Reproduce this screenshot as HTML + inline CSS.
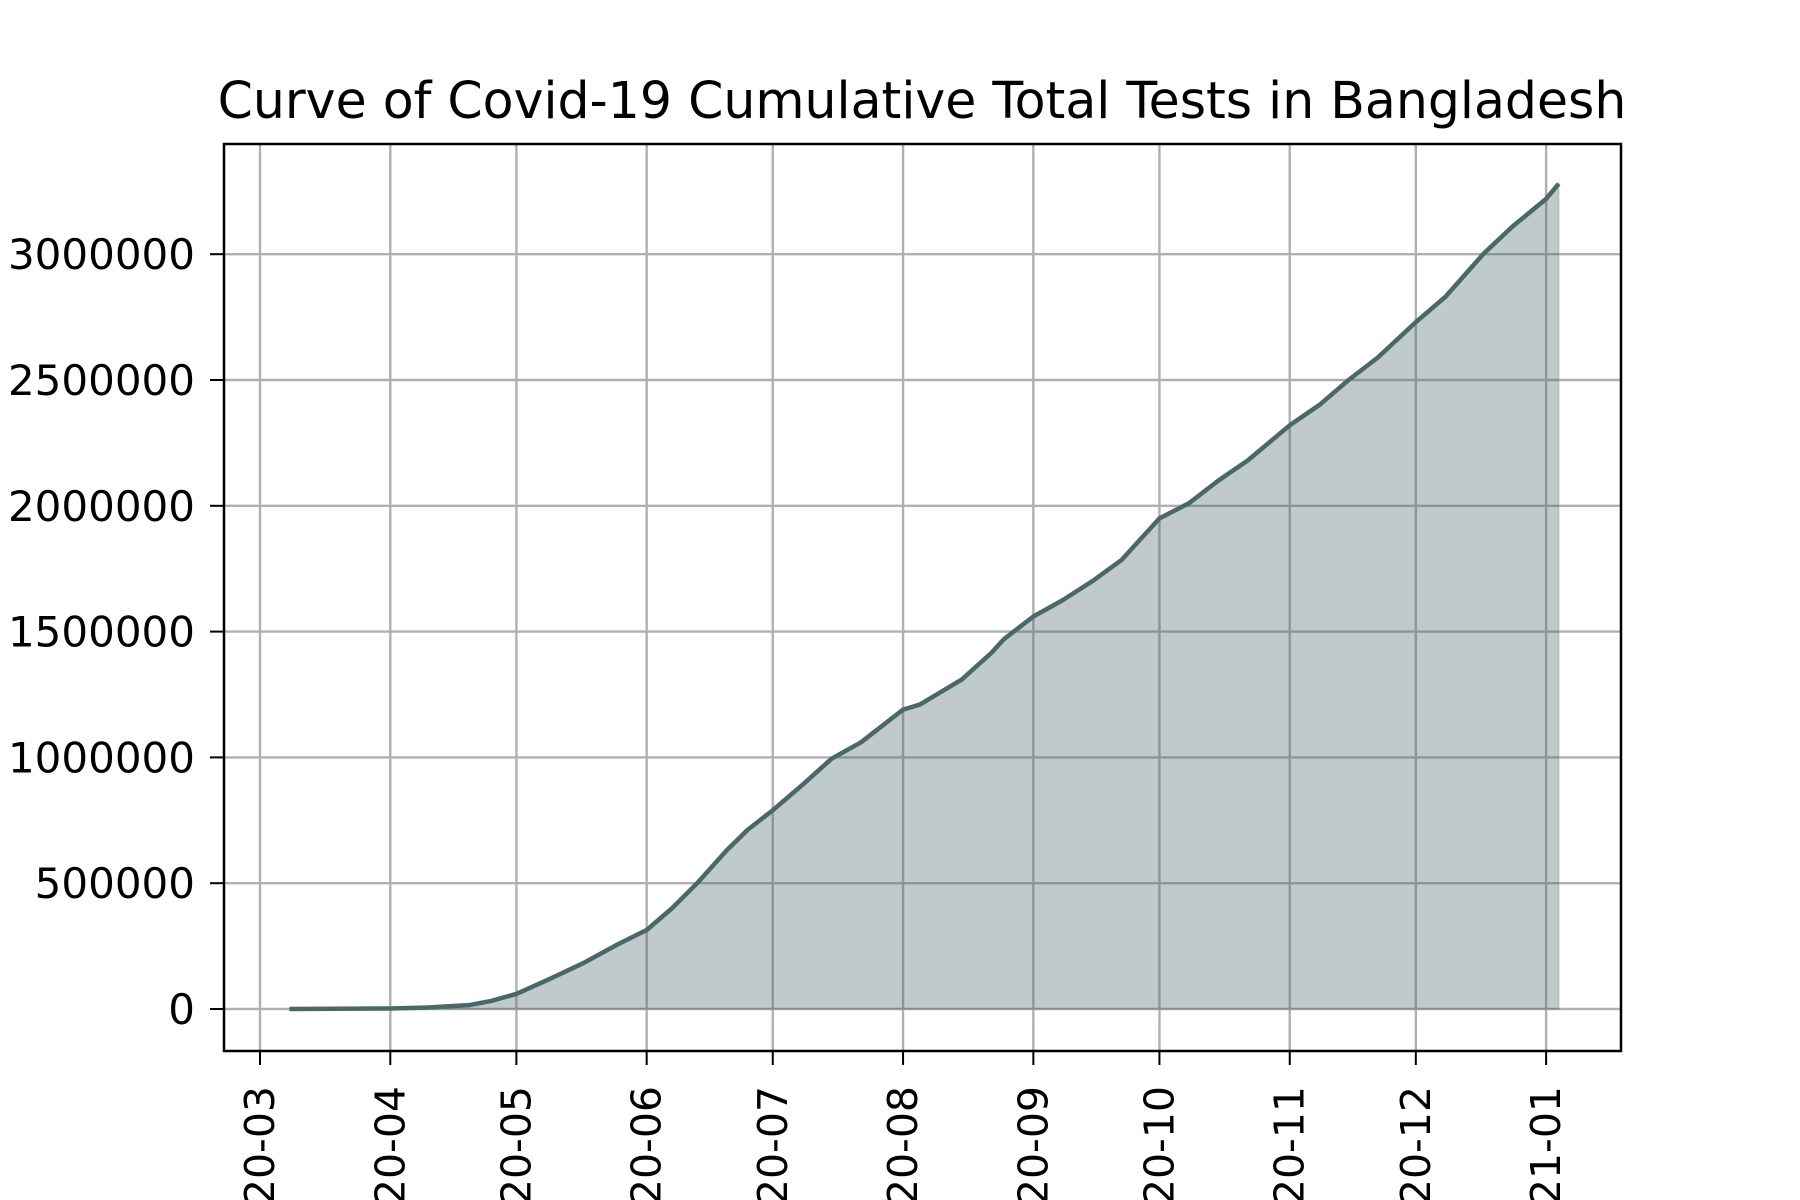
<!DOCTYPE html>
<html><head><meta charset="utf-8"><style>
html,body{margin:0;padding:0;background:#fff;}
svg{display:block;font-family:"DejaVu Sans","Liberation Sans",sans-serif;}
</style></head><body>
<svg id="chart" width="1800" height="1200" viewBox="0 0 1800 1200" xmlns="http://www.w3.org/2000/svg">
<rect width="1800" height="1200" fill="#fff"/>
<text x="922" y="118" font-size="50.5" text-anchor="middle" fill="#000">Curve of Covid-19 Cumulative Total Tests in Bangladesh</text>
<g id="grid"></g>
<g id="series"></g>
<rect x="224" y="144" width="1397" height="907" fill="none" stroke="#000" stroke-width="2.5"/>
<g id="axes"></g>
</svg>
<script>
const dates = ["2020-03-08","2020-04-01","2020-04-10","2020-04-20","2020-04-25","2020-05-01","2020-05-09","2020-05-17","2020-05-25","2020-06-01","2020-06-07","2020-06-13","2020-06-20","2020-06-25","2020-07-01","2020-07-08","2020-07-15","2020-07-22","2020-08-01","2020-08-05","2020-08-15","2020-08-22","2020-08-25","2020-09-01","2020-09-08","2020-09-15","2020-09-22","2020-10-01","2020-10-08","2020-10-15","2020-10-22","2020-11-01","2020-11-08","2020-11-15","2020-11-22","2020-12-01","2020-12-08","2020-12-17","2020-12-24","2021-01-01","2021-01-04"];
const tests = [0,2000,6000,16000,32000,60000,120000,183000,256000,314000,400000,500000,630000,712000,790000,890000,995000,1060000,1190000,1210000,1310000,1415000,1470000,1560000,1625000,1700000,1785000,1950000,2010000,2100000,2180000,2320000,2400000,2500000,2590000,2730000,2830000,3000000,3110000,3220000,3280000];
const xTickLabels = ["2020-03","2020-04","2020-05","2020-06","2020-07","2020-08","2020-09","2020-10","2020-11","2020-12","2021-01"];
const yTicks = [0,500000,1000000,1500000,2000000,2500000,3000000];

const NS="http://www.w3.org/2000/svg";
const L=224,R=1621,T=144,B=1051;
const origin=Date.UTC(2020,2,1);
function dayOf(s){const p=s.split("-").map(Number);return (Date.UTC(p[0],p[1]-1,p[2]||1)-origin)/86400000;}
function xScale(s){return 260+dayOf(s)*4.203;}
function yScale(v){return 1009-v*(251.6/1000000);}
function mk(tag,attrs,parent){const e=document.createElementNS(NS,tag);for(const k in attrs)e.setAttribute(k,attrs[k]);parent.appendChild(e);return e;}
const grid=document.getElementById('grid'),axes=document.getElementById('axes'),series=document.getElementById('series');

xTickLabels.forEach(lbl=>{
  const x=xScale(lbl);
  const g=mk('line',{x1:x,x2:x,y1:T,y2:B,stroke:'#b0b0b0','stroke-width':2.4},grid);
  
  
  const t=mk('line',{x1:x,x2:x,y1:B,y2:B+14,stroke:'#000','stroke-width':2},axes);
  
  
  const tx=mk('text',{x:0,y:0,'font-size':41,'text-anchor':'end',transform:`translate(${x+14},1086) rotate(-90)`},axes);
  tx.textContent=lbl;
  
  
});
yTicks.forEach(v=>{
  const y=yScale(v);
  const g=mk('line',{x1:L,x2:R,y1:y,y2:y,stroke:'#b0b0b0','stroke-width':2.4},grid);
  
  
  const t=mk('line',{x1:L-14,x2:L,y1:y,y2:y,stroke:'#000','stroke-width':2},axes);
  
  
  const tx=mk('text',{x:195,y:y+15,'font-size':42,'text-anchor':'end'},axes);
  tx.textContent=String(v);
  
  
});
const pts=dates.map((d,i)=>[xScale(d),yScale(tests[i])]);
let area=`M${pts[0][0]},${yScale(0)} `+pts.map(p=>`L${p[0]},${p[1]}`).join(' ')+` L${pts[pts.length-1][0]},${yScale(0)} Z`;
const a=mk('path',{d:area,fill:'#4a6868','fill-opacity':0.35,stroke:'#4a6868','stroke-opacity':0.2,'stroke-width':2},series);


const ln=mk('polyline',{points:pts.map(p=>p.join(',')).join(' '),fill:'none',stroke:'#4a6868','stroke-width':4.5,'stroke-linejoin':'round'},series);


</script>
</body></html>
